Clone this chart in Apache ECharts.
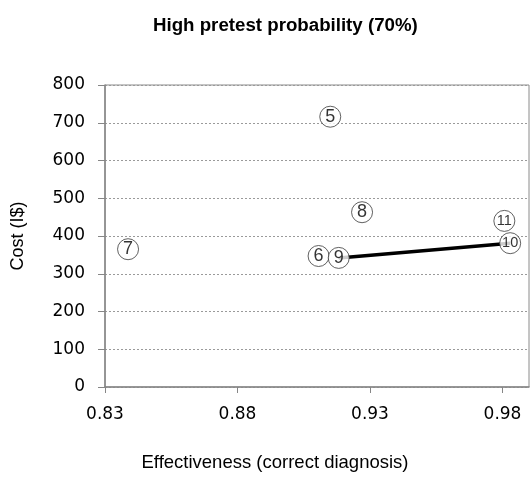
<!DOCTYPE html>
<html>
<head>
<meta charset="utf-8">
<script src="https://cdn.jsdelivr.net/npm/echarts@6/dist/echarts.min.js"></script>
<style>
html,body{margin:0;padding:0;background:#fff;}
#chart{width:530px;height:477px;}
</style>
</head>
<body>
<div id="chart"></div>
<script>
// Data
var strategyNames = ['5', '6', '7', '8', '9', '10', '11'];
var effectiveness = [0.915, 0.9106, 0.8387, 0.927, 0.9182, 0.9829, 0.9807];
var costs = [716, 347, 365, 463, 342, 381, 440];
var frontier = ['9', '10'];
var xTickValues = [0.83, 0.88, 0.93, 0.98];

var titleText = 'High pretest probability (70%)';
var xAxisTitle = 'Effectiveness (correct diagnosis)';
var yAxisTitle = 'Cost (I$)';

var pointData = strategyNames.map(function (n, i) {
  return {
    name: n,
    value: [effectiveness[i], costs[i]],
    label: { fontSize: n.length > 1 ? 14.5 : 18 }
  };
});
var lineData = frontier.map(function (n) {
  var i = strategyNames.indexOf(n);
  return [effectiveness[i], costs[i]];
});

var chart = echarts.init(document.getElementById('chart'), null, { renderer: 'canvas' });
chart.setOption({
  animation: false,
  backgroundColor: '#ffffff',
  title: {
    text: titleText,
    left: 148,
    top: 11,
    textStyle: { fontFamily: 'Liberation Sans', fontWeight: 'bold', fontSize: 18.7, color: '#000' }
  },
  grid: {
    left: 105, top: 85, right: 1, bottom: 90,
    outerBoundsMode: 'none',
    containLabel: false,
    show: true, borderColor: '#8a8a8a', borderWidth: 1, backgroundColor: 'transparent'
  },
  xAxis: {
    type: 'value',
    min: 0.83,
    max: 0.99,
    name: xAxisTitle,
    nameLocation: 'middle',
    nameGap: 66,
    nameTextStyle: { fontFamily: 'Liberation Sans', fontSize: 18.5, color: '#000', padding: [0, 84, 0, 0] },
    axisLine: { show: true, onZero: false, lineStyle: { color: '#868686', width: 1.5 } },
    axisTick: { show: true, length: 6, customValues: xTickValues, lineStyle: { color: '#868686' } },
    axisLabel: {
      customValues: xTickValues,
      margin: 19,
      fontFamily: 'DejaVu Sans', fontSize: 17, color: '#000',
      formatter: function (v) { return v.toFixed(2); }
    },
    splitLine: { show: false }
  },
  yAxis: {
    type: 'value',
    min: 0,
    max: 800,
    interval: 100,
    name: yAxisTitle,
    nameLocation: 'middle',
    nameGap: 78,
    nameTextStyle: { fontFamily: 'Liberation Sans', fontSize: 18, color: '#000' },
    axisLine: { show: true, lineStyle: { color: '#868686', width: 1.5 } },
    axisTick: { show: true, length: 7, lineStyle: { color: '#868686' } },
    axisLabel: {
      margin: 20,
      fontFamily: 'DejaVu Sans', fontSize: 17, color: '#000'
    },
    splitLine: { show: true, lineStyle: { color: '#9a9a9a', type: [2, 2], width: 1 } }
  },
  series: [
    {
      type: 'line',
      data: lineData,
      symbol: 'none',
      z: 1,
      lineStyle: { color: '#000', width: 3.5 }
    },
    {
      type: 'scatter',
      data: pointData,
      symbol: 'circle',
      symbolSize: 21,
      z: 3,
      itemStyle: { color: '#ffffff', borderColor: '#3a3a3a', borderWidth: 1 },
      label: {
        show: true,
        position: 'inside',
        formatter: '{b}',
        fontFamily: 'Liberation Sans',
        color: '#000'
      }
    }
  ]
});
</script>
</body>
</html>
